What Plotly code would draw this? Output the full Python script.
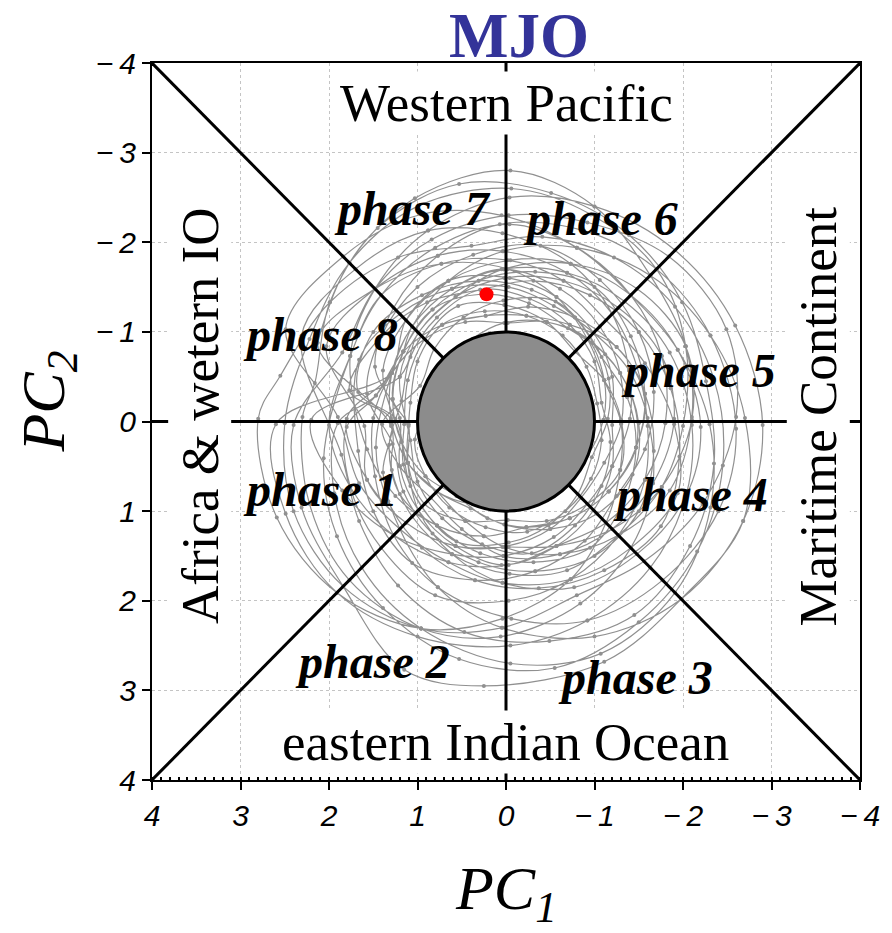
import plotly.graph_objects as go

# ---------------- data ----------------
# daily MJO trajectory (PC1, PC2), loop by loop
PC1 = [
    1.30, 1.11, 0.78, 0.38, 0.03, -0.31, -0.64, -0.92, -1.10, -1.11, -0.92, -0.46, 0.02, 0.38, 0.64, 0.74,
    1.03, 0.91, 0.64, 0.23, -0.24, -0.67, -0.96, -1.08, -1.03, -0.91, -0.64, -0.23, 0.24, 0.72, 1.00, 1.08,
    1.10, 1.11, 0.92, 0.46, -0.02, -0.46, -0.92, -1.29, -1.30, -1.11, -0.78, -0.46, 0.02, 0.54, 0.92, 1.11,
    1.15, 1.16, 0.95, 0.56, -0.03, -0.48, -0.81, -0.97, -1.15, -1.16, -0.95, -0.56, 0.03, 0.48, 0.81, 0.97,
    1.40, 1.20, 0.85, 0.50, 0.03, -0.61, -1.20, -1.66, -1.90, -1.76, -1.27, -0.65, 0.02, 0.57, 0.99, 1.20,
    1.08, 1.00, 0.72, 0.27, -0.29, -0.78, -1.08, -1.18, -1.08, -1.00, -0.72, -0.27, 0.29, 0.78, 1.08, 1.18,
    1.32, 1.20, 0.78, 0.25, -0.23, -0.72, -1.16, -1.47, -1.42, -1.12, -0.70, -0.26, 0.28, 0.83, 1.16, 1.28,
    1.10, 1.11, 0.99, 0.61, 0.04, -0.77, -1.48, -2.03, -2.20, -1.94, -1.41, -0.73, -0.05, 0.65, 1.13, 1.39,
    1.18, 1.08, 0.78, 0.29, -0.31, -0.95, -1.33, -1.47, -1.37, -1.08, -0.78, -0.29, 0.31, 0.95, 1.50, 1.67,
    1.25, 1.11, 0.78, 0.40, 0.02, -0.50, -1.03, -1.43, -1.50, -1.29, -0.92, -0.46, -0.02, 0.46, 0.92, 1.29,
    1.50, 1.48, 1.27, 0.77, -0.06, -0.92, -1.77, -2.40, -2.60, -2.31, -1.70, -0.88, 0.07, 0.77, 1.27, 1.48,
    1.20, 1.20, 0.99, 0.57, 0.05, -0.57, -0.99, -1.20, -1.20, -1.20, -0.99, -0.57, -0.04, 0.65, 1.13, 1.29,
    1.80, 1.57, 1.13, 0.57, 0.04, -0.50, -0.85, -1.11, -1.30, -1.29, -1.06, -0.61, 0.05, 0.61, 1.06, 1.29,
    1.47, 1.33, 0.95, 0.35, -0.37, -1.11, -1.75, -1.96, -1.86, -1.50, -0.95, -0.31, 0.29, 0.89, 1.41, 1.77,
    1.30, 1.39, 1.20, 0.77, 0.05, -1.00, -1.98, -2.68, -2.90, -2.59, -1.91, -1.00, -0.04, 0.88, 1.48, 1.76,
    1.57, 1.25, 0.78, 0.25, -0.23, -0.72, -1.16, -1.47, -1.57, -1.41, -1.00, -0.33, 0.31, 0.83, 1.16, 1.28,
    1.18, 0.91, 0.56, 0.21, -0.23, -0.72, -1.16, -1.47, -1.57, -1.25, -0.78, -0.25, 0.23, 0.72, 1.16, 1.47,
    1.80, 1.76, 1.41, 0.80, -0.03, -0.73, -1.27, -1.57, -1.60, -1.48, -1.20, -0.69, 0.04, 0.77, 1.48, 2.03,
    1.60, 1.57, 1.13, 0.57, -0.03, -0.57, -1.20, -1.76, -2.10, -2.03, -1.48, -0.73, 0.03, 0.57, 0.99, 1.20,
    2.20, 1.85, 1.27, 0.61, 0.03, -0.54, -0.92, -1.20, -1.40, -1.39, -1.20, -0.73, 0.04, 0.88, 1.70, 2.31,
    1.86, 1.66, 1.22, 0.47, -0.49, -1.45, -2.08, -2.35, -2.26, -1.99, -1.39, -0.51, 0.53, 1.45, 1.99, 2.16,
    2.30, 2.22, 1.77, 0.96, 0.06, -0.84, -1.41, -1.66, -1.60, -1.39, -0.99, -0.54, -0.03, 0.61, 1.20, 1.66,
    1.67, 1.50, 1.06, 0.35, -0.33, -0.89, -1.25, -1.57, -1.67, -1.50, -1.06, -0.39, 0.37, 1.00, 1.41, 1.57,
    1.28, 1.16, 0.83, 0.31, -0.33, -1.00, -1.50, -1.67, -1.57, -1.25, -0.72, -0.23, 0.23, 0.72, 1.16, 1.47,
    1.90, 1.94, 1.63, 0.96, -0.05, -1.07, -1.91, -2.31, -2.30, -1.94, -1.41, -0.80, 0.05, 0.96, 1.84, 2.49,
    1.90, 1.66, 1.20, 0.65, 0.04, -0.73, -1.41, -1.94, -1.90, -1.57, -1.13, -0.65, -0.02, 0.73, 1.41, 1.76,
    2.00, 1.76, 1.27, 0.65, -0.03, -0.57, -1.13, -1.57, -1.80, -1.76, -1.41, -0.80, -0.04, 0.80, 1.41, 1.76,
    2.06, 1.91, 1.39, 0.53, -0.55, -1.50, -2.16, -2.45, -2.35, -1.91, -1.22, -0.41, 0.39, 1.22, 1.99, 2.55,
    2.80, 2.59, 1.91, 0.96, 0.04, -0.73, -1.13, -1.29, -1.30, -1.11, -0.92, -0.57, -0.02, 0.73, 1.48, 2.13,
    1.30, 1.29, 1.06, 0.61, -0.04, -0.69, -1.27, -1.76, -2.00, -2.03, -1.70, -0.96, -0.06, 1.00, 1.77, 2.22,
    2.50, 2.40, 1.84, 0.96, 0.04, -0.80, -1.56, -2.22, -2.60, -2.49, -1.84, -0.92, -0.03, 0.84, 1.48, 1.85,
    2.40, 2.31, 1.84, 1.15, 0.25, -1.11, -1.98, -2.68, -2.70, -2.31, -1.63, -0.80, 0.03, 0.65, 1.06, 1.29,
    2.60, 2.49, 1.91, 1.00, -0.05, -0.92, -1.63, -2.03, -2.10, -1.85, -1.34, -0.69, 0.03, 0.61, 1.06, 1.29,
    1.30, 1.11, 0.78, 0.46, 0.02, -0.61, -1.27, -1.85, -2.10, -2.03, -1.63, -1.00, -0.05, 1.03, 1.77, 2.13,
]
PC2 = [
    0.02, 0.46, 0.78, 0.92, 0.90, 0.74, 0.64, 0.38, -0.02, -0.46, -0.92, -1.11, -1.10, -0.92, -0.64, -0.31,
    0.20, 0.61, 0.96, 1.18, 1.23, 1.00, 0.64, 0.21, -0.20, -0.61, -0.96, -1.18, -1.23, -1.08, -0.67, -0.21,
    0.03, 0.46, 0.92, 1.11, 1.10, 1.11, 0.92, 0.54, -0.02, -0.46, -0.78, -1.11, -1.30, -1.29, -0.92, -0.46,
    0.03, 0.48, 0.95, 1.34, 1.35, 1.16, 0.81, 0.40, -0.03, -0.48, -0.95, -1.34, -1.35, -1.16, -0.81, -0.40,
    0.03, 0.50, 0.85, 1.20, 1.50, 1.48, 1.20, 0.69, -0.03, -0.73, -1.27, -1.57, -1.60, -1.39, -0.99, -0.50,
    0.21, 0.67, 1.08, 1.37, 1.47, 1.16, 0.72, 0.23, -0.21, -0.67, -1.08, -1.37, -1.47, -1.16, -0.72, -0.23,
    0.26, 0.81, 1.16, 1.28, 1.18, 1.08, 0.78, 0.29, -0.28, -0.75, -1.04, -1.32, -1.42, -1.25, -0.78, -0.25,
    0.05, 0.46, 0.99, 1.48, 1.80, 1.85, 1.48, 0.84, 0.06, -0.80, -1.41, -1.76, -1.80, -1.57, -1.13, -0.57,
    0.23, 0.72, 1.16, 1.47, 1.57, 1.41, 0.89, 0.29, -0.27, -0.72, -1.16, -1.47, -1.57, -1.41, -1.00, -0.33,
    -0.03, 0.46, 0.78, 0.97, 1.15, 1.20, 1.03, 0.59, 0.02, -0.54, -0.92, -1.11, -1.10, -1.11, -0.92, -0.54,
    -0.04, 0.61, 1.27, 1.85, 2.20, 2.22, 1.77, 1.00, 0.08, -0.96, -1.70, -2.13, -2.20, -1.85, -1.27, -0.61,
    -0.04, 0.50, 0.99, 1.39, 1.60, 1.39, 0.99, 0.50, 0.04, -0.50, -0.99, -1.39, -1.60, -1.57, -1.13, -0.54,
    -0.03, 0.65, 1.13, 1.39, 1.40, 1.20, 0.85, 0.46, 0.03, -0.54, -1.06, -1.48, -1.70, -1.48, -1.06, -0.54,
    0.29, 0.89, 1.41, 1.77, 1.86, 1.66, 1.17, 0.39, -0.37, -1.00, -1.41, -1.57, -1.47, -1.33, -0.95, -0.35,
    -0.02, 0.57, 1.20, 1.85, 2.30, 2.40, 1.98, 1.11, 0.04, -1.07, -1.91, -2.40, -2.50, -2.13, -1.48, -0.73,
    0.31, 0.83, 1.16, 1.28, 1.18, 1.08, 0.78, 0.29, -0.31, -0.95, -1.50, -1.67, -1.57, -1.25, -0.78, -0.25,
    0.23, 0.61, 0.83, 1.08, 1.18, 1.08, 0.78, 0.29, -0.31, -0.83, -1.16, -1.28, -1.18, -1.08, -0.78, -0.29,
    0.06, 0.73, 1.41, 1.94, 2.00, 1.76, 1.27, 0.65, 0.05, -0.61, -1.20, -1.66, -1.90, -1.85, -1.48, -0.84,
    0.05, 0.65, 1.13, 1.39, 1.40, 1.39, 1.20, 0.73, -0.02, -0.84, -1.48, -1.76, -1.70, -1.39, -0.99, -0.50,
    -0.02, 0.77, 1.27, 1.48, 1.50, 1.29, 0.92, 0.50, -0.03, -0.57, -1.20, -1.76, -2.10, -2.13, -1.70, -0.96,
    0.37, 1.11, 1.83, 2.35, 2.45, 2.16, 1.39, 0.47, -0.45, -1.33, -2.08, -2.55, -2.65, -2.16, -1.33, -0.43,
    -0.05, 0.92, 1.77, 2.31, 2.40, 2.03, 1.41, 0.69, -0.04, -0.57, -0.99, -1.29, -1.50, -1.48, -1.20, -0.69,
    0.33, 1.00, 1.58, 1.77, 1.67, 1.33, 0.83, 0.31, -0.33, -1.00, -1.58, -1.96, -1.86, -1.50, -0.95, -0.31,
    0.25, 0.78, 1.25, 1.57, 1.67, 1.50, 1.00, 0.33, -0.31, -0.83, -1.08, -1.18, -1.18, -1.08, -0.78, -0.29,
    0.02, 0.80, 1.63, 2.31, 2.70, 2.59, 1.91, 0.96, 0.03, -0.80, -1.41, -1.94, -2.30, -2.31, -1.84, -1.03,
    -0.05, 0.69, 1.20, 1.57, 1.80, 1.76, 1.41, 0.80, 0.03, -0.65, -1.13, -1.57, -1.80, -1.76, -1.41, -0.73,
    0.04, 0.73, 1.27, 1.57, 1.60, 1.39, 1.13, 0.65, 0.02, -0.73, -1.41, -1.94, -2.20, -1.94, -1.41, -0.73,
    0.41, 1.28, 2.08, 2.65, 2.75, 2.24, 1.45, 0.49, -0.47, -1.28, -1.83, -2.06, -1.96, -1.83, -1.33, -0.51,
    -0.03, 1.07, 1.91, 2.31, 2.20, 1.76, 1.13, 0.54, 0.02, -0.46, -0.92, -1.39, -1.70, -1.76, -1.48, -0.88,
    0.05, 0.54, 1.06, 1.48, 1.70, 1.66, 1.27, 0.73, 0.05, -0.84, -1.70, -2.31, -2.60, -2.40, -1.77, -0.92,
    0.02, 1.00, 1.84, 2.31, 2.30, 1.94, 1.56, 0.92, -0.05, -1.03, -1.84, -2.22, -2.30, -2.03, -1.48, -0.77,
    0.04, 0.96, 1.84, 2.77, 2.95, 2.68, 1.98, 1.11, -0.04, -0.96, -1.63, -1.94, -1.90, -1.57, -1.06, -0.54,
    0.03, 1.03, 1.91, 2.40, 2.50, 2.22, 1.63, 0.84, 0.04, -0.77, -1.34, -1.66, -1.70, -1.48, -1.06, -0.54,
    -0.04, 0.46, 0.78, 1.11, 1.40, 1.48, 1.27, 0.77, -0.05, -0.84, -1.63, -2.40, -2.80, -2.49, -1.77, -0.88,
]
# current (last) day
CURRENT_PC1 = [0.22]
CURRENT_PC2 = [-1.42]

TICKS = [4, 3, 2, 1, 0, -1, -2, -3, -4]
TICK_TEXT = ["4", "3", "2", "1", "0", "\u2212\u20091", "\u2212\u20092", "\u2212\u20093", "\u2212\u20094"]

PHASE_LABELS = ["phase 1", "phase 2", "phase 3", "phase 4",
                "phase 5", "phase 6", "phase 7", "phase 8"]
PHASE_X = [2.10, 1.51, -1.46, -2.08, -2.18, -1.07, 1.06, 2.10]
PHASE_Y = [0.76, 2.68, 2.86, 0.82, -0.57, -2.27, -2.38, -0.97]

REGION_LABELS = ["Western Pacific", "eastern Indian Ocean",
                 "Africa & wetern IO", "Maritime Continent"]
REGION_X = [0.0, 0.01, 3.46, -3.53]
REGION_Y = [-3.55, 3.58, -0.06, -0.06]
REGION_ANGLE = [0, 0, -90, -90]

LIM = 4.0      # axis limit
AMP = 1.0      # amplitude circle radius
DIAG = AMP * 0.70711

SERIF = "Liberation Serif"
SANS = "Liberation Sans"

fig = go.Figure()

fig.add_trace(go.Scatter(
    x=PC1, y=PC2, mode="lines+markers",
    line=dict(color="#909090", width=1.2, shape="spline", smoothing=1.0),
    marker=dict(color="#909090", size=4),
    hoverinfo="skip", showlegend=False,
))
fig.add_trace(go.Scatter(
    x=CURRENT_PC1, y=CURRENT_PC2, mode="markers",
    marker=dict(color="#ff0000", size=14),
    showlegend=False,
))

# phase-boundary lines
line_style = dict(color="black", width=3)
segments = [
    (LIM, -LIM, DIAG, -DIAG), (-LIM, -LIM, -DIAG, -DIAG),
    (-LIM, LIM, -DIAG, DIAG), (LIM, LIM, DIAG, DIAG),
    (0, -LIM, 0, -AMP), (0, LIM, 0, AMP),
    (LIM, 0, AMP, 0), (-LIM, 0, -AMP, 0),
]
for x0, y0, x1, y1 in segments:
    fig.add_shape(type="line", x0=x0, y0=y0, x1=x1, y1=y1,
                  line=line_style, layer="above")
fig.add_shape(type="circle", x0=-AMP, y0=-AMP, x1=AMP, y1=AMP,
              fillcolor="#8c8c8c", line=dict(color="black", width=3),
              layer="above")

# region labels (white box interrupts the boundary lines)
for t, x, y, a in zip(REGION_LABELS, REGION_X, REGION_Y, REGION_ANGLE):
    fig.add_annotation(x=x, y=y, text=t, showarrow=False, textangle=a,
                       bgcolor="white", borderpad=2,
                       font=dict(family=SERIF, size=53, color="black"))

# phase labels
for t, x, y in zip(PHASE_LABELS, PHASE_X, PHASE_Y):
    fig.add_annotation(x=x, y=y, text="<b><i>%s</i></b>" % t, showarrow=False,
                       font=dict(family=SERIF, size=48, color="black"))

# title and axis titles
fig.add_annotation(xref="paper", yref="paper", x=0.519, y=1.0, yshift=63,
                   text="<b>MJO</b>", showarrow=False, yanchor="top", borderpad=0,
                   font=dict(family=SERIF, size=63, color="#333399"))
fig.add_annotation(xref="paper", yref="paper", x=0.5, y=0, yshift=-112,
                   text="<i>PC<sub>1</sub></i>", showarrow=False, yanchor="middle",
                   font=dict(family=SERIF, size=62, color="black"))
fig.add_annotation(xref="paper", yref="paper", x=0, y=0.5, xshift=-105, yshift=20,
                   text="<i>PC<sub>2</sub></i>", showarrow=False, textangle=-90,
                   xanchor="center", font=dict(family=SERIF, size=62, color="black"))

fig.update_layout(
    xaxis=dict(
        range=[LIM, -LIM], tickvals=TICKS, ticktext=TICK_TEXT,
        tickfont=dict(family=SANS, size=30, color="black", style="italic"),
        ticks="outside", ticklen=8, tickwidth=1.5, tickcolor="black",
        showgrid=True, gridcolor="#c4c4c4", griddash="dot",
        zeroline=False, showline=True, linecolor="black", linewidth=2, mirror=True,
        minor=dict(dtick=0.1, ticks="inside", ticklen=3, tickcolor="black",
                   showgrid=False),
    ),
    yaxis=dict(
        range=[LIM, -LIM], tickvals=TICKS, ticktext=TICK_TEXT,
        tickfont=dict(family=SANS, size=30, color="black", style="italic"),
        ticks="outside", ticklen=8, tickwidth=1.5, tickcolor="black",
        showgrid=True, gridcolor="#c4c4c4", griddash="dot",
        zeroline=False, showline=True, linecolor="black", linewidth=2, mirror=True,
    ),
    width=892, height=933,
    margin=dict(l=152, r=24, t=63, b=153),
    plot_bgcolor="white", paper_bgcolor="white",
    showlegend=False,
)

fig.write_html("out.html")
